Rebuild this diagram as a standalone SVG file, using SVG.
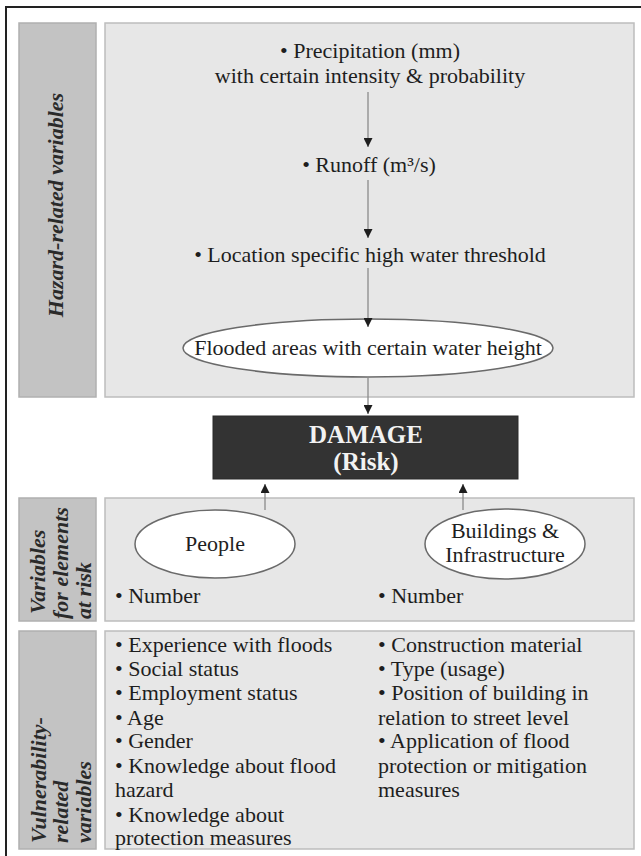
<svg xmlns="http://www.w3.org/2000/svg" width="641" height="856" viewBox="0 0 641 856">
  <defs>
    <marker id="tip" viewBox="0 0 10 10" refX="10" refY="5" markerWidth="9" markerHeight="9" markerUnits="userSpaceOnUse" orient="auto">
      <path d="M0,0 L10,5 L0,10 Z" fill="#1e1e1e"/>
    </marker>
    <style>
      .side { fill: #c3c3c3; stroke: #b0b0b0; stroke-width: 1.5; }
      .panel { fill: #e7e7e7; stroke: #bdbdbd; stroke-width: 1.5; }
      .oval { fill: #ffffff; stroke: #6a6a6a; stroke-width: 1.5; }
      .link { fill: none; stroke: #8a8a8a; stroke-width: 1.3; marker-end: url(#tip); }
      text { font-family: "Liberation Serif", "Times New Roman", serif; fill: #1e1e1e; font-size: 22px; }
      .lbl { font-weight: bold; font-style: italic; font-size: 22px; fill: #2a2a2a; }
      .mid { text-anchor: middle; }
      .dmg { font-weight: bold; font-size: 25px; fill: #f2f2f2; text-anchor: middle; }
    </style>
  </defs>

  <rect width="641" height="856" fill="#ffffff"/>
  <!-- frame -->
  <path d="M6,856 V7 H641" fill="none" stroke="#222" stroke-width="2"/>

  <!-- section: hazard-related variables -->
  <g id="hazard-section">
    <rect class="side" x="19" y="23" width="77" height="374"/>
    <text class="lbl mid" transform="translate(63,205) rotate(-90)">Hazard-related variables</text>
    <rect class="panel" x="105" y="23" width="529" height="374"/>
  </g>

  <g id="precipitation">
    <text class="mid" x="370" y="58">• Precipitation (mm)</text>
    <text class="mid" x="370" y="83">with certain intensity &amp; probability</text>
  </g>
  <g id="runoff">
    <text class="mid" x="369" y="172">• Runoff (m³/s)</text>
  </g>
  <g id="threshold">
    <text class="mid" x="370" y="262">• Location specific high water threshold</text>
  </g>
  <g id="flooded-areas">
    <ellipse class="oval" cx="368" cy="348" rx="185" ry="29"/>
    <text class="mid" x="368" y="355">Flooded areas with certain water height</text>
  </g>

  <g id="damage">
    <rect x="213" y="416" width="305" height="63" fill="#333333" stroke="#2a2a2a" stroke-width="1"/>
    <text class="dmg" x="366" y="443">DAMAGE</text>
    <text class="dmg" x="366" y="470">(Risk)</text>
  </g>

  <!-- section: elements at risk -->
  <g id="elements-section">
    <rect class="side" x="19" y="498" width="77" height="123"/>
    <text class="lbl" transform="translate(45,614) rotate(-90)">Variables</text>
    <text class="lbl" transform="translate(68,619) rotate(-90)">for elements</text>
    <text class="lbl" transform="translate(91,619) rotate(-90)">at risk</text>
    <rect class="panel" x="105" y="498" width="529" height="123"/>
  </g>

  <g id="people">
    <ellipse class="oval" cx="215" cy="544" rx="80" ry="34"/>
    <text class="mid" x="215" y="551">People</text>
    <text x="115" y="603">• Number</text>
  </g>
  <g id="buildings">
    <ellipse class="oval" cx="505" cy="544" rx="80" ry="35"/>
    <text class="mid" x="505" y="538">Buildings &amp;</text>
    <text class="mid" x="505" y="562">Infrastructure</text>
    <text x="378" y="603">• Number</text>
  </g>

  <!-- section: vulnerability-related variables -->
  <g id="vulnerability-section">
    <rect class="side" x="19" y="631" width="77" height="218"/>
    <text class="lbl" transform="translate(46,843) rotate(-90)">Vulnerability-</text>
    <text class="lbl" transform="translate(68,843) rotate(-90)">related</text>
    <text class="lbl" transform="translate(91,843) rotate(-90)">variables</text>
    <rect class="panel" x="105" y="631" width="529" height="218"/>
  </g>

  <g id="people-vulnerability">
    <text x="115" y="652">• Experience with floods</text>
    <text x="115" y="676">• Social status</text>
    <text x="115" y="700">• Employment status</text>
    <text x="115" y="725">• Age</text>
    <text x="115" y="748">• Gender</text>
    <text x="115" y="773">• Knowledge about flood</text>
    <text x="115" y="797">hazard</text>
    <text x="115" y="822">• Knowledge about</text>
    <text x="115" y="845">protection measures</text>
  </g>
  <g id="building-vulnerability">
    <text x="378" y="652">• Construction material</text>
    <text x="378" y="676">• Type (usage)</text>
    <text x="378" y="700">• Position of building in</text>
    <text x="378" y="725">relation to street level</text>
    <text x="378" y="748">• Application of flood</text>
    <text x="378" y="773">protection or mitigation</text>
    <text x="378" y="797">measures</text>
  </g>

  <!-- connectors -->
  <g id="connectors">
    <line class="link" x1="368" y1="92" x2="368" y2="147"/>
    <line class="link" x1="368" y1="180" x2="368" y2="238"/>
    <line class="link" x1="368" y1="268" x2="368" y2="327"/>
    <line class="link" x1="368" y1="377" x2="368" y2="414"/>
    <line class="link" x1="265" y1="510" x2="265" y2="484"/>
    <line class="link" x1="463" y1="510" x2="463" y2="484"/>
  </g>
</svg>
